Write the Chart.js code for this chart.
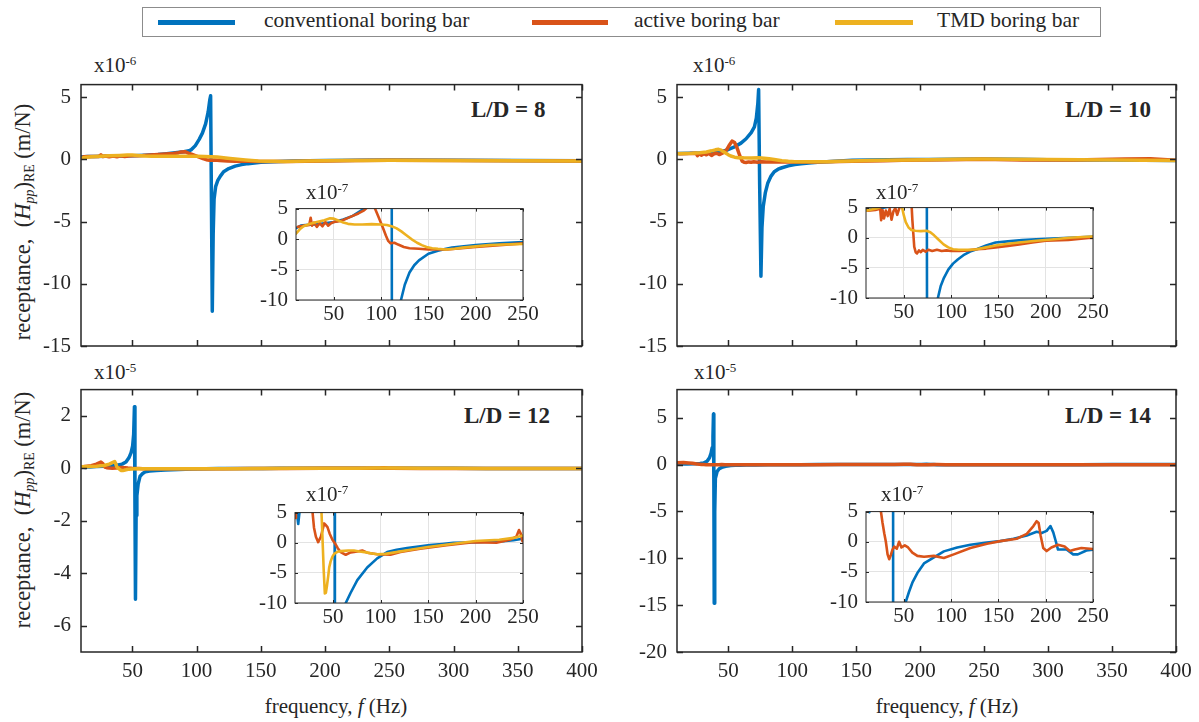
<!DOCTYPE html>
<html>
<head>
<meta charset="utf-8">
<script src="https://cdn.jsdelivr.net/npm/chart.js@4.4.1/dist/chart.umd.min.js"></script>
<style>
  body { margin: 0; background: #fff; }
  #page { position: relative; width: 1199px; height: 722px; overflow: hidden; font-family: 'Liberation Serif', serif; color: #262626; }
  .txt { position: absolute; white-space: nowrap; line-height: 1; font-size: 21px; }
  .sup { font-size: 0.62em; position: relative; top: -0.55em; }
  .sub { font-size: 0.62em; position: relative; top: 0.3em; }
  .ld { font-weight: bold; font-size: 23px; }
  .swatch { position: absolute; height: 5px; }
  canvas { position: absolute; }
</style>
</head>
<body>
<div id="page">
  <div style="position:absolute;left:142px;top:7px;width:957px;height:28px;border:1px solid #8c8c8c;"></div>
  <div class="swatch" style="left:158px;top:20px;width:77px;background:#0072BD"></div>
  <div class="txt" style="left:264px;top:10px;font-size:21.5px">conventional boring bar</div>
  <div class="swatch" style="left:532px;top:20px;width:76px;background:#D95319"></div>
  <div class="txt" style="left:634px;top:10px;font-size:21.5px">active boring bar</div>
  <div class="swatch" style="left:835px;top:20px;width:78px;background:#EDB120"></div>
  <div class="txt" style="left:937px;top:10px;font-size:21.5px">TMD boring bar</div>

  <div class="txt" style="left:94px;top:55px">x10<span class="sup">-6</span></div>
  <div class="txt" style="left:693px;top:55px">x10<span class="sup">-6</span></div>
  <div class="txt" style="left:94px;top:362px">x10<span class="sup">-5</span></div>
  <div class="txt" style="left:694px;top:362px">x10<span class="sup">-5</span></div>

  <div class="txt ld" style="left:471px;top:98px">L/D = 8</div>
  <div class="txt ld" style="left:1065px;top:98px">L/D = 10</div>
  <div class="txt ld" style="left:464px;top:404px">L/D = 12</div>
  <div class="txt ld" style="left:1065px;top:404px">L/D = 14</div>

  <div class="txt" style="left:23px;top:222px;font-size:22.5px;transform:translate(-50%,-50%) rotate(-90deg)">receptance,&nbsp; (<i>H</i><span class="sub"><i>pp</i></span>)<span class="sub">RE</span> (m/N)</div>
  <div class="txt" style="left:23px;top:510px;font-size:22.5px;transform:translate(-50%,-50%) rotate(-90deg)">receptance,&nbsp; (<i>H</i><span class="sub"><i>pp</i></span>)<span class="sub">RE</span> (m/N)</div>

  <div class="txt" style="left:336px;top:696px;transform:translateX(-50%)">frequency, <i>f</i> (Hz)</div>
  <div class="txt" style="left:947px;top:696px;transform:translateX(-50%)">frequency, <i>f</i> (Hz)</div>
</div>

<script>
// all receptance values in units of 1e-7 m/N, frequency in Hz
const xTicksMain = [50, 100, 150, 200, 250, 300, 350, 400];
const xTicksInset = [50, 100, 150, 200, 250];
const yTicksInset = [-10, -5, 0, 5];

// L/D = 8
const ld8ConvFreq = [10, 15, 20, 30, 40, 50, 60, 70, 75, 80, 85, 90, 94, 96, 99, 102, 104.5, 107, 109, 110.3, 110.9, 111.5, 112.2, 112.9, 113.6, 114.8, 116.5, 118.5, 121, 125, 130, 135, 140, 150, 160, 175, 200, 225, 250, 300, 350, 400];
const ld8ConvRe = [1.8, 2.2, 2.3, 2.4, 2.6, 2.8, 3.2, 3.8, 4.3, 4.8, 5.4, 6.0, 6.8, 7.8, 11, 16, 21, 28.5, 38, 48, 51, -30, -122, -60, -32, -22, -17, -13.5, -10, -7.5, -5.5, -4.3, -3.5, -2.4, -1.9, -1.4, -1.0, -0.7, -0.5, -0.8, -1.0, -1.2];
const ld8ActFreq = [12, 18, 24, 25.5, 27, 29, 32, 35, 38, 41, 44, 47, 50, 54, 58, 64, 70, 76, 82, 86, 88, 91, 93.5, 96.5, 102, 105, 107.5, 110, 114, 118, 124, 130, 140, 150, 160, 170, 185, 200, 225, 250, 300, 350, 400];
const ld8ActRe = [2.0, 2.2, 2.3, 3.5, 2.2, 2.7, 2.0, 2.6, 2.1, 2.8, 2.2, 2.6, 2.8, 2.9, 3.0, 3.4, 3.8, 4.2, 4.7, 5.3, 5.9, 6.1, 5.0, 3.9, 1.8, 0.6, -0.3, -0.7, -0.6, -0.9, -1.3, -1.5, -1.6, -1.7, -1.7, -1.7, -1.5, -1.3, -1.0, -0.7, -1.0, -1.2, -1.3];
const ld8TmdFreq = [10, 14, 18, 25, 32, 40, 46, 50, 54, 60, 65, 72, 80, 90, 100, 106, 111, 116, 121, 126, 132, 138, 143, 148, 154, 160, 168, 178, 186, 200, 214, 230, 250, 300, 350, 400];
const ld8TmdRe = [0.9, 1.6, 2.1, 2.5, 2.8, 3.1, 3.4, 3.35, 3.1, 2.7, 2.5, 2.4, 2.4, 2.45, 2.4, 2.3, 2.1, 1.8, 1.3, 0.7, 0.0, -0.6, -1.0, -1.3, -1.5, -1.6, -1.7, -1.6, -1.4, -1.2, -1.0, -0.9, -0.8, -1.0, -1.2, -1.3];

// L/D = 10
const ld10ConvFreq = [10, 20, 28, 35, 42, 48, 54, 60, 64, 68, 70.5, 72, 73.2, 73.8, 74.6, 75.6, 76.4, 77.4, 79, 81, 83.5, 86, 89, 92, 97, 102, 107, 113, 120, 127, 137, 147, 160, 175, 190, 207, 225, 248, 275, 300, 325, 350, 375, 400];
const ld10ConvRe = [4.6, 4.8, 5.0, 5.2, 5.6, 7.0, 9.5, 13, 16.5, 21.5, 26, 33, 45, 56, -20, -94, -55, -38, -27, -19, -13.5, -10, -8.0, -6.8, -5.3, -4.3, -3.6, -2.9, -2.3, -1.9, -1.3, -0.8, -0.6, -0.4, -0.25, -0.15, 0.0, 0.15, 0.0, -0.3, -0.5, -0.6, -0.8, -1.0];
const ld10ActFreq = [12, 20, 25, 26, 27.5, 29, 31, 33, 35, 37, 39, 41, 43, 45, 47, 49, 51, 53, 55, 57, 59, 61, 62.5, 64, 66, 68, 70, 73, 76, 80, 85, 90, 95, 100, 109, 118, 127, 137, 147, 160, 172, 186, 200, 224, 248, 280, 320, 360, 380, 400];
const ld10ActRe = [4.5, 4.6, 4.8, 2.9, 4.6, 3.2, 4.5, 3.6, 4.8, 3.0, 4.4, 4.9, 3.8, 4.8, 5.8, 8.0, 11.5, 14.6, 13.5, 9, 3, -1.5, -2.4, -2.6, -2.1, -2.4, -2.0, -2.3, -2.0, -2.2, -2.0, -2.2, -2.1, -2.2, -2.2, -2.1, -1.9, -1.8, -1.6, -1.35, -1.1, -0.8, -0.5, -0.35, 0.0, -0.5, -0.6, 0.2, 0.5, -0.8];
const ld10TmdFreq = [10, 16, 22, 28, 33, 37, 40, 42.5, 44.5, 46.5, 48.3, 50, 52, 55, 58, 62, 68, 74, 78, 82, 86, 92, 97, 102, 108, 113, 120, 127, 137, 147, 160, 172, 190, 206, 225, 248, 275, 300, 325, 350, 375, 400];
const ld10TmdRe = [4.5, 4.7, 4.9, 5.3, 5.9, 6.8, 7.6, 8.0, 7.4, 6.0, 4.9, 3.7, 2.6, 1.7, 1.3, 1.15, 1.1, 1.15, 0.9, 0.4, -0.2, -1.1, -1.6, -1.9, -2.0, -2.0, -2.0, -1.9, -1.6, -1.3, -1.0, -0.8, -0.5, -0.3, 0.0, 0.2, 0.1, -0.2, -0.4, -0.5, -0.7, -1.0];

// L/D = 12
const ld12ConvFreq = [10, 12, 13.4, 14.8, 17, 22, 28, 34, 38, 42, 45, 47.3, 49, 50.2, 51, 51.6, 52.0, 52.4, 52.9, 53.5, 54.5, 56, 58, 60, 63.4, 68.6, 75.6, 86, 96.5, 107, 117, 128, 140, 152, 165, 176.7, 190, 201, 215, 229, 240, 248, 250, 275, 300, 325, 350, 375, 400];
const ld12ConvRe = [4.8, 4.9, 3.1, 5.2, 5.5, 6.5, 7.5, 9.0, 11.5, 16, 24, 40, 60, 85, 130, 235, -150, -499, -180, -105, -60, -30, -20, -13.5, -10, -8.3, -6.2, -4.1, -2.6, -1.55, -1.15, -0.9, -0.65, -0.4, -0.2, 0.0, 0.05, 0.1, 0.18, 0.26, 0.4, 0.62, 0.7, 0.5, 0.0, -0.3, -0.5, -0.6, -0.7];
const ld12ActFreq = [10, 11, 13, 18, 22, 25.5, 27, 28.5, 30, 32, 34.4, 37.2, 40.7, 42, 44.2, 46.5, 49.4, 52.9, 55, 58.1, 63.4, 68.6, 75.6, 80.8, 86, 96.5, 110.5, 121, 141.8, 169.7, 197.7, 222, 236, 243, 245.8, 247.5, 249.3, 252, 275, 300, 325, 350, 375, 400];
const ld12ActRe = [4.1, 5.5, 7, 10, 16, 24, 18, 5, 2.5, 1.0, 0.1, 1.0, 3.2, 3.0, 2.6, 1.5, 0.5, -0.3, -0.9, -1.55, -2.0, -1.6, -1.45, -1.3, -1.65, -1.9, -2.0, -1.55, -1.0, -0.4, 0.1, 0.0, 0.5, 1.0, 2.1, 1.55, 0.3, 0, -0.3, -0.5, -0.6, -0.3, -0.6, -0.8];
const ld12TmdFreq = [10, 16, 22, 28, 32, 34.5, 36.2, 37.2, 37.9, 39, 40.2, 41.4, 42.5, 43.5, 45, 46, 47.5, 49.4, 51.5, 54.6, 58, 62, 66, 72, 78, 85, 91, 97, 105, 115, 130, 150, 175, 200, 225, 240, 250, 275, 300, 325, 350, 375, 400];
const ld12TmdRe = [6, 7, 8, 11, 16, 22, 26, 16, 5, 0.5, -4.5, -8.4, -8.3, -7.3, -5.5, -4.1, -3.1, -2.3, -1.8, -1.5, -1.4, -1.35, -1.3, -1.3, -1.45, -1.6, -1.8, -1.9, -1.85, -1.6, -1.2, -0.7, -0.2, 0.3, 0.5, 0.8, 1.2, 0.5, 0, -0.4, -0.6, -0.7, -0.8];

// L/D = 14 (no TMD bar)
const ld14ConvFreq = [10, 12, 13.5, 15, 18, 24, 28, 31, 33.5, 35.4, 36.6, 37.5, 38.1, 38.5, 38.8, 39.1, 39.5, 40.0, 41.4, 43, 45, 48, 52, 55.5, 59, 64.3, 71.3, 81.8, 92.3, 106.4, 120.4, 137.9, 152, 166, 180, 190.4, 195.7, 201, 205, 208, 210.8, 213, 222, 229, 234, 243, 250, 275, 300, 325, 350, 375, 400];
const ld14ConvRe = [8, 6, 4.9, 6.5, 7, 8, 11, 18, 35, 73, 120, 180, 300, 540, -200, -1480, -500, -146, -73, -45, -30, -18, -10, -8.3, -6.8, -5.2, -3.6, -2.6, -1.6, -0.95, -0.5, -0.15, 0.1, 0.5, 1.05, 1.65, 1.45, 1.8, 2.6, 1.55, 0.0, -1.3, -1.3, -2.1, -2.1, -1.45, -1.3, -1.0, -0.8, -0.6, -0.5, -0.5, -0.5];
const ld14ActFreq = [10, 15, 19, 22, 24.5, 25.8, 27.5, 29.3, 31, 32.8, 34.5, 36.3, 38, 39.8, 42.6, 45, 47.5, 51, 54.5, 59, 64.3, 71.3, 81.8, 92.3, 102.8, 120.4, 137.9, 152, 169.4, 180, 187, 190.4, 192.5, 194.6, 197.4, 201, 206, 213, 220, 225.5, 230.7, 237.7, 250, 275, 300, 325, 350, 375, 400];
const ld14ActRe = [20, 22, 18, 13, 8, 5, 3.1, 1.4, 0, -2.1, -2.9, -2.2, -1.3, -0.8, -1.15, 0, -0.95, -0.6, -0.95, -1.8, -2.35, -2.5, -2.35, -2.7, -2.1, -1.05, -0.35, 0.1, 0.5, 1.3, 2.6, 3.4, 3.1, 1.05, -1.05, -1.55, -0.95, -0.5, -0.8, -1.55, -1.3, -1.05, -1.2, -1.0, -0.9, -0.8, -0.8, -0.9, -1.0];

const BLUE = '#0072BD';
const ORANGE = '#D95319';
const YELLOW = '#EDB120';
const INK = '#262626';
const FONT = "'Liberation Serif', serif";
const TICK_SIZE = 21;

const panels = [
  {
    main: { l: 81, t: 82, w: 501, h: 264 }, yMin: -15, yMax: 6, yTicks: [-15, -10, -5, 0, 5], perUnit: 10, showX: false,
    inset: { l: 296, t: 203, w: 227, h: 97 },
    series: [[ld8ConvFreq, ld8ConvRe, BLUE], [ld8ActFreq, ld8ActRe, ORANGE], [ld8TmdFreq, ld8TmdRe, YELLOW]]
  },
  {
    main: { l: 677, t: 82, w: 499, h: 264 }, yMin: -15, yMax: 6, yTicks: [-15, -10, -5, 0, 5], perUnit: 10, showX: false,
    inset: { l: 866, t: 202, w: 227, h: 96 },
    series: [[ld10ConvFreq, ld10ConvRe, BLUE], [ld10ActFreq, ld10ActRe, ORANGE], [ld10TmdFreq, ld10TmdRe, YELLOW]]
  },
  {
    main: { l: 81, t: 387, w: 501, h: 265 }, yMin: -7, yMax: 3, yTicks: [-6, -4, -2, 0, 2], perUnit: 100, showX: true,
    inset: { l: 295, t: 507, w: 228, h: 96 },
    series: [[ld12ConvFreq, ld12ConvRe, BLUE], [ld12ActFreq, ld12ActRe, ORANGE], [ld12TmdFreq, ld12TmdRe, YELLOW]]
  },
  {
    main: { l: 677, t: 387, w: 499, h: 265 }, yMin: -20, yMax: 8, yTicks: [-20, -15, -10, -5, 0, 5], perUnit: 100, showX: true,
    inset: { l: 866, t: 506, w: 227, h: 96 },
    series: [[ld14ConvFreq, ld14ConvRe, BLUE], [ld14ActFreq, ld14ActRe, ORANGE]]
  }
];

// white plot background for insets, matlab style box with inward ticks
const boxPlugin = {
  id: 'matlabBox',
  beforeDraw(chart, args, opts) {
    if (!opts.fillWhite) return;
    const a = chart.chartArea;
    const ctx = chart.ctx;
    ctx.save();
    ctx.fillStyle = '#fff';
    ctx.fillRect(a.left, a.top, a.right - a.left, a.bottom - a.top);
    ctx.restore();
  },
  afterDraw(chart, args, opts) {
    const a = chart.chartArea;
    const ctx = chart.ctx;
    const len = opts.tickLen;
    const xs = chart.scales.x;
    const ys = chart.scales.y;
    ctx.save();
    ctx.strokeStyle = INK;
    ctx.lineWidth = opts.lineWidth;
    ctx.beginPath();
    xs.ticks.forEach(t => {
      const px = Math.round(xs.getPixelForValue(t.value)) + 0.5;
      ctx.moveTo(px, a.bottom); ctx.lineTo(px, a.bottom - len);
      ctx.moveTo(px, a.top); ctx.lineTo(px, a.top + len);
    });
    ys.ticks.forEach(t => {
      const py = Math.round(ys.getPixelForValue(t.value)) + 0.5;
      ctx.moveTo(a.left, py); ctx.lineTo(a.left + len, py);
      ctx.moveTo(a.right, py); ctx.lineTo(a.right - len, py);
    });
    ctx.stroke();
    ctx.strokeRect(a.left, a.top, a.right - a.left, a.bottom - a.top);
    ctx.restore();
  }
};

function addCanvas(left, top, width, height, z) {
  const c = document.createElement('canvas');
  c.width = width;
  c.height = height;
  c.style.left = left + 'px';
  c.style.top = top + 'px';
  c.style.width = width + 'px';
  c.style.height = height + 'px';
  c.style.zIndex = z;
  document.getElementById('page').appendChild(c);
  return c;
}

function makeDatasets(series, perUnit, width) {
  return series.map(([freq, re, color], i) => ({
    data: freq.map((f, k) => ({ x: f, y: re[k] / perUnit })),
    borderColor: color,
    borderWidth: width,
    borderJoinStyle: 'round',
    borderCapStyle: 'round',
    pointRadius: 0,
    tension: 0,
    fill: false,
    clip: 0,
    order: series.length - i
  }));
}

function buildChart(rect, m, o) {
  const canvas = addCanvas(rect.l - m.l, rect.t - m.t, rect.w + m.l + m.r, rect.h + m.t + m.b, o.z);
  const font = { family: FONT, size: TICK_SIZE };
  return new Chart(canvas, {
    type: 'line',
    data: { datasets: o.datasets },
    options: {
      responsive: false,
      animation: false,
      devicePixelRatio: 1,
      events: [],
      layout: { padding: { left: 0, top: m.t, right: m.r, bottom: 0 } },
      plugins: {
        legend: { display: false },
        tooltip: { enabled: false },
        matlabBox: { fillWhite: o.fillWhite, tickLen: o.tickLen, lineWidth: o.frameWidth }
      },
      scales: {
        x: {
          type: 'linear', min: o.xMin, max: o.xMax,
          afterBuildTicks: s => { s.ticks = o.xTicks.map(v => ({ value: v })); },
          afterFit: s => { s.height = m.b; },
          grid: { display: o.grid, color: '#e3e3e3', lineWidth: 1, drawTicks: false },
          border: { display: false },
          ticks: { display: o.showX, font, color: INK, padding: o.xPad, maxRotation: 0, autoSkip: false, callback: v => String(v) }
        },
        y: {
          type: 'linear', min: o.yMin, max: o.yMax,
          afterBuildTicks: s => { s.ticks = o.yTicks.map(v => ({ value: v })); },
          afterFit: s => { s.width = m.l; },
          grid: { display: o.grid, color: '#e3e3e3', lineWidth: 1, drawTicks: false },
          border: { display: false },
          ticks: { font, color: INK, padding: o.yPad, autoSkip: false, callback: v => String(v) }
        }
      }
    },
    plugins: [boxPlugin]
  });
}

panels.forEach(p => {
  buildChart(p.main, { l: 75, t: 20, r: 25, b: 45 }, {
    z: 1, datasets: makeDatasets(p.series, p.perUnit, 3.5),
    xMin: 10, xMax: 400, xTicks: xTicksMain, showX: p.showX, xPad: 7,
    yMin: p.yMin, yMax: p.yMax, yTicks: p.yTicks, yPad: 10,
    grid: false, fillWhite: false, tickLen: 6, frameWidth: 1.5
  });
  buildChart(p.inset, { l: 55, t: 15, r: 25, b: 28 }, {
    z: 2, datasets: makeDatasets(p.series, 1, 2.6),
    xMin: 10, xMax: 250, xTicks: xTicksInset, showX: true, xPad: 2,
    yMin: -10, yMax: 5, yTicks: yTicksInset, yPad: 8,
    grid: true, fillWhite: true, tickLen: 3, frameWidth: 1
  });
});

// inset exponent labels sit above the inset frames
[[306, 182], [876, 182], [306, 484], [881, 484]].forEach(([x, y]) => {
  const d = document.createElement('div');
  d.className = 'txt';
  d.style.left = x + 'px';
  d.style.top = y + 'px';
  d.style.zIndex = 3;
  d.innerHTML = 'x10<span class="sup">-7</span>';
  document.getElementById('page').appendChild(d);
});
</script>
</body>
</html>
